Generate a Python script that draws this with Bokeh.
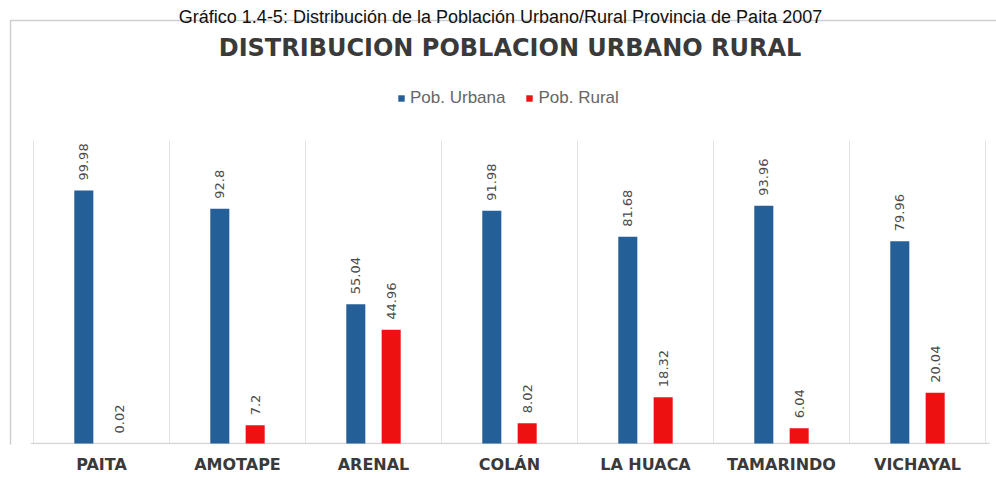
import math
from bokeh.plotting import figure
from bokeh.models import Range1d, FixedTicker, Legend, LegendItem, ColumnDataSource
from bokeh.core.properties import value
from bokeh.embed import file_html
from bokeh.resources import INLINE

# ---- data ----
categories = ["PAITA", "AMOTAPE", "ARENAL", "COLÁN", "LA HUACA", "TAMARINDO", "VICHAYAL"]
urbana = [99.98, 92.8, 55.04, 91.98, 81.68, 93.96, 79.96]
rural = [0.02, 7.2, 44.96, 8.02, 18.32, 6.04, 20.04]
urbana_labels = ["99.98", "92.8", "55.04", "91.98", "81.68", "93.96", "79.96"]
rural_labels = ["0.02", "7.2", "44.96", "8.02", "18.32", "6.04", "20.04"]
caption = "Gráfico 1.4-5: Distribución de la Población Urbano/Rural Provincia de Paita 2007"
chart_title = "DISTRIBUCION POBLACION URBANO RURAL"
series_names = ["Pob. Urbana", "Pob. Rural"]

BLUE = "#245f97"
RED = "#ee1111"

n = len(categories)
centers = [i + 0.5 for i in range(n)]
off = 0.13
bw = 0.14

p = figure(width=996, height=482, output_backend="svg", toolbar_location=None,
           x_range=Range1d(-0.2426, 7.081), y_range=Range1d(-0.395, 175.1),
           y_axis_location=None, min_border_left=0, min_border_right=0,
           min_border_top=0, min_border_bottom=38)
p.outline_line_color = None
p.xgrid.visible = False
p.ygrid.visible = False
p.background_fill_color = "white"
p.border_fill_color = "white"

# frame box of the chart image
p.line(x=[7.3, -0.169, -0.169], y=[167.2, 167.2, -5], line_color="#cfcfcf", line_width=1.5)

# caption
p.text(x=[3.434], y=[168.4], text=[caption], text_align="center", text_baseline="alphabetic",
       text_font=value("Liberation Sans"), text_font_size="18px", text_color="#111111")

# chart title
p.text(x=[3.504], y=[156.5], text=[chart_title], text_align="center", text_baseline="middle",
       text_font=value("DejaVu Sans"), text_font_style="bold", text_font_size="24px",
       text_color="#3a3a3a")

# category separators and baseline
p.segment(x0=list(range(n + 1)), y0=[0] * (n + 1), x1=list(range(n + 1)), y1=[119.8] * (n + 1),
          line_color="#e3e3e3", line_width=1)
p.segment(x0=[-0.02], y0=[0], x1=[7.03], y1=[0], line_color="#d6d6d6", line_width=1.5)

src_u = ColumnDataSource(dict(x=[c - off for c in centers], top=urbana, lab=urbana_labels))
src_r = ColumnDataSource(dict(x=[c + off for c in centers], top=rural, lab=rural_labels))

ru = p.vbar(x="x", top="top", width=bw, source=src_u, fill_color=BLUE, line_color=None)
rr = p.vbar(x="x", top="top", width=bw, source=src_r, fill_color=RED, line_color=None)

for src in (src_u, src_r):
    p.text(x="x", y="top", text="lab", source=src, angle=math.pi / 2,
           text_align="left", text_baseline="middle", y_offset=-10,
           text_font=value("DejaVu Sans"), text_font_size="13px", text_color="#4a4a4a")

legend = Legend(items=[LegendItem(label=series_names[0], renderers=[ru]),
                       LegendItem(label=series_names[1], renderers=[rr])],
                orientation="horizontal", location=(397, 336),
                glyph_width=8, glyph_height=8, label_height=20,
                label_text_font_size="17px", label_text_font="Liberation Sans",
                label_text_color="#666666", spacing=20, padding=0, margin=0,
                label_standoff=5, border_line_color=None, background_fill_alpha=0)
p.add_layout(legend)

ax = p.xaxis[0]
ax.ticker = FixedTicker(ticks=centers)
ax.major_label_overrides = {c: cat for c, cat in zip(centers, categories)}
ax.axis_line_color = None
ax.major_tick_line_color = None
ax.major_tick_out = 0
ax.major_tick_in = 0
ax.minor_tick_line_color = None
ax.major_label_standoff = 10
ax.major_label_text_font = "DejaVu Sans"
ax.major_label_text_font_style = "bold"
ax.major_label_text_font_size = "16px"
ax.major_label_text_color = "#3a3a3a"

open("out.html", "w").write(file_html(p, INLINE))
